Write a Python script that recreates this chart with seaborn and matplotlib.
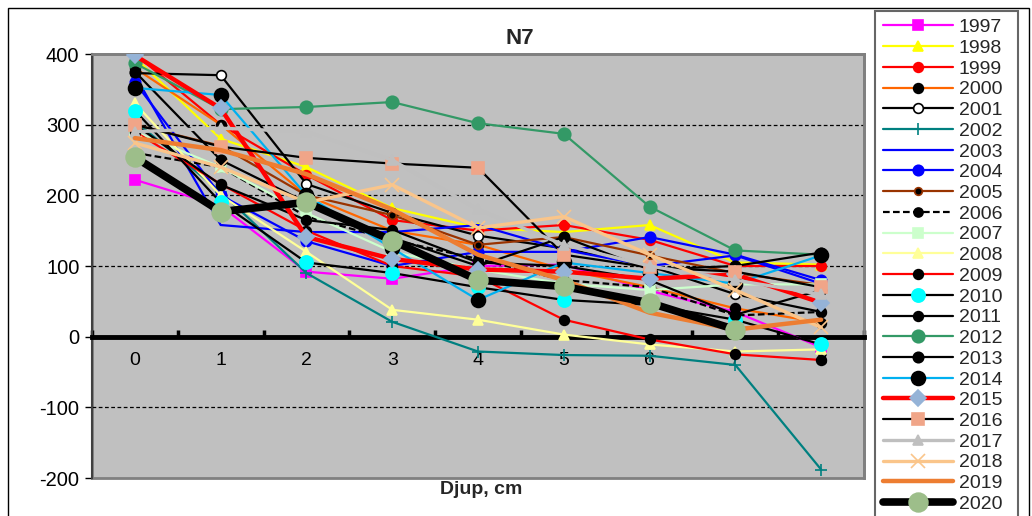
import numpy as np
import pandas as pd
import matplotlib
matplotlib.use("Agg")
import matplotlib.pyplot as plt
from matplotlib.patches import Rectangle
import seaborn as sns

# Depth steps (cm) and measured values per year
depth = [0, 1, 2, 3, 4, 5, 6, 7, 8]

y1997 = [222, 185, 92, 82, 100, 102, 65, 35, -15]
y1998 = [395, 280, 240, 182, 154, 148, 158, 105, 102]
y1999 = [400, 300, 229, 165, 150, 158, 137, 100, 100]
y2000 = [380, 300, 200, 150, 130, 95, 70, 40, 20]
y2001 = [373, 370, 216, 175, 143, 125, 100, 60, 35]
y2002 = [305, 205, 90, 21, -21, -26, -27, -40, -188]
y2003 = [370, 158, 148, 148, 158, 123, 100, 115, 75]
y2004 = [360, 200, 135, 100, 120, 120, 141, 116, 80]
y2005 = [300, 270, 200, 172, 130, 141, 115, 90, 73]
y2006 = [260, 240, 170, 137, 110, 80, 70, 30, 35]
y2007 = [290, 240, 175, 120, 95, 75, 66, 74, 74]
y2008 = [330, 200, 120, 38, 24, 3, -11, -21, -18]
y2009 = [290, 216, 150, 100, 85, 24, -4, -25, -33]
y2010 = [320, 190, 105, 90, 70, 52, 45, 24, -11]
y2011 = [300, 215, 165, 151, 105, 100, 80, 31, 66]
y2012 = [387, 322, 325, 332, 302, 287, 184, 122, 116]
y2013 = [375, 250, 190, 140, 100, 141, 95, 100, 119]
y2014 = [352, 342, 200, 125, 52, 105, 90, 75, 115]
y2015 = [398, 323, 141, 110, 95, 92, 82, 88, 48]
y2016 = [300, 269, 253, 245, 239, 116, 98, 92, 70]
y2017 = [290, 295, 290, 250, 180, 130, 100, 80, 60]
y2018 = [274, 240, 190, 215, 154, 170, 116, 66, 13]
y2019 = [281, 264, 230, 180, 116, 80, 34, 10, 24]
y2020 = [254, 177, 190, 136, 80, 71, 48, 10, np.nan]

years = [str(y) for y in range(1997, 2021)]
values = [y1997, y1998, y1999, y2000, y2001, y2002, y2003, y2004, y2005,
          y2006, y2007, y2008, y2009, y2010, y2011, y2012, y2013, y2014,
          y2015, y2016, y2017, y2018, y2019, y2020]

# Per-series look
line_colors = ['#FF00FF', '#FFFF00', '#FF0000', '#FF6600', '#000000', '#008080',
               '#0000FF', '#0000FF', '#993300', '#000000', '#CCFFCC', '#FFFF99',
               '#FF0000', '#000000', '#000000', '#339966', '#000000', '#00B0F0',
               '#FF0000', '#000000', '#BFBFBF', '#FAC58A', '#ED7D31', '#000000']
markers = ['s', '^', 'o', 'o', 'o', '+', 'None', 'o', 'o', 'o', 's', '^',
           'o', 'o', 'o', 'o', 'o', 'o', 'D', 's', '^', 'x', 'None', 'o']
face_colors = ['#FF00FF', '#FFFF00', '#FF0000', '#000000', '#FFFFFF', '#008080',
               '#0000FF', '#0000FF', '#000000', '#000000', '#CCFFCC', '#FFFF99',
               '#000000', '#00FFFF', '#000000', '#339966', '#000000', '#000000',
               '#95B3D7', '#F0A588', '#BFBFBF', '#FAC58A', '#ED7D31', '#9DBE8A']
edge_colors = ['#FF00FF', '#FFFF00', '#FF0000', '#000000', '#000000', '#008080',
               '#0000FF', '#0000FF', '#993300', '#000000', '#CCFFCC', '#FFFF99',
               '#000000', '#00FFFF', '#000000', '#339966', '#000000', '#000000',
               '#95B3D7', '#F0A588', '#BFBFBF', '#FAC58A', '#ED7D31', '#9DBE8A']
line_widths = [1.6, 1.6, 1.6, 1.6, 1.6, 1.6, 1.6, 1.6, 1.6, 1.6, 1.6, 1.6,
               1.6, 1.6, 1.6, 1.6, 1.6, 1.6, 3.2, 1.6, 2.4, 2.4, 3.2, 5.5]
marker_sizes = [7, 7.5, 7, 7, 7, 9, 0, 7.5, 5.5, 6.5, 7.5, 7.5,
                7, 9.5, 7, 9, 7.5, 10, 8, 8, 7.5, 10, 0, 13.5]
line_styles = ['-'] * 24
line_styles[9] = (0, (3, 1.5))

sns.set_theme(style="white")
plt.rcParams['font.family'] = ['Liberation Sans', 'DejaVu Sans']
plt.rcParams['axes.unicode_minus'] = False

W, H = 1032, 516
fig = plt.figure(figsize=(W / 100, H / 100), dpi=100)
ax = fig.add_axes([92 / W, 1 - 478 / H, (864 - 92) / W, (478 - 54) / H])
ax.set_facecolor('#C0C0C0')

for i, (yr, vals) in enumerate(zip(years, values)):
    df = pd.DataFrame({'depth': depth, 'value': vals})
    sns.lineplot(data=df, x='depth', y='value', ax=ax, label=yr,
                 color=line_colors[i], linestyle=line_styles[i],
                 linewidth=line_widths[i], marker=markers[i],
                 markersize=marker_sizes[i], markerfacecolor=face_colors[i],
                 markeredgecolor=edge_colors[i], markeredgewidth=1.2,
                 estimator=None, sort=False, zorder=3 + i * 0.1)

ax.set_xlim(-0.5, 8.5)
ax.set_ylim(-200, 400)

# Dashed gridlines
for g in [-100, 100, 200, 300]:
    ax.axhline(g, color='black', lw=0.9, ls=(0, (3, 2)), zorder=1)

# Category axis sits on y = 0
ax.spines['bottom'].set_position(('data', 0))
ax.spines['bottom'].set_color('black')
ax.spines['bottom'].set_linewidth(3.5)
ax.spines['bottom'].set_zorder(2.5)
for s in ['top', 'right']:
    ax.spines[s].set_color('#808080')
    ax.spines[s].set_linewidth(2)
ax.spines['left'].set_color('#404040')
ax.spines['left'].set_linewidth(1.5)
ax.add_patch(Rectangle((0, 0), 1, 1, transform=ax.transAxes, fill=False,
                       edgecolor='#808080', lw=2, zorder=0.5, clip_on=False))

ax.set_xticks(depth)
ax.set_xticklabels([str(d) for d in depth])
ax.set_xticks(np.arange(-0.5, 9.0, 1.0), minor=True)
ax.tick_params(axis='x', which='major', length=0, pad=11, labelsize=14,
               labelcolor='black')
ax.tick_params(axis='x', which='minor', direction='in', length=5, width=2.5,
               color='black', bottom=True)
ax.set_yticks([-200, -100, 0, 100, 200, 300, 400])
ax.tick_params(axis='y', which='major', direction='out', length=5, width=1,
               color='black', left=True, labelsize=14.5, pad=4, labelcolor='black')
ax.set_xlabel('')
ax.set_ylabel('')

handles, labels = ax.get_legend_handles_labels()
ax.get_legend().remove()
leg = fig.legend(handles, labels, loc='upper left',
                 bbox_to_anchor=(875 / W, 1 - 16 / H, 143 / W, 0.01),
                 mode='expand', frameon=True,
                 fontsize=14, handlelength=3.6, handletextpad=0.3,
                 labelspacing=0.16, borderpad=0.4, borderaxespad=0,
                 fancybox=False)
leg.get_frame().set_edgecolor('#404040')
leg.get_frame().set_linewidth(1.5)

fig.text(520 / W, 1 - 38 / H, 'N7', fontsize=16, fontweight='bold',
         ha='center', va='center')
fig.text(481 / W, 1 - 490 / H, 'Djup, cm', fontsize=14, fontweight='bold',
         ha='center', va='center')

# Outer chart frame
fig.patches.append(Rectangle((8 / W, -0.05), (1029 - 8) / W, 1 - 8 / H + 0.05,
                             transform=fig.transFigure, fill=False,
                             edgecolor='black', lw=1, zorder=0))

fig.savefig('out.png', dpi=100)
